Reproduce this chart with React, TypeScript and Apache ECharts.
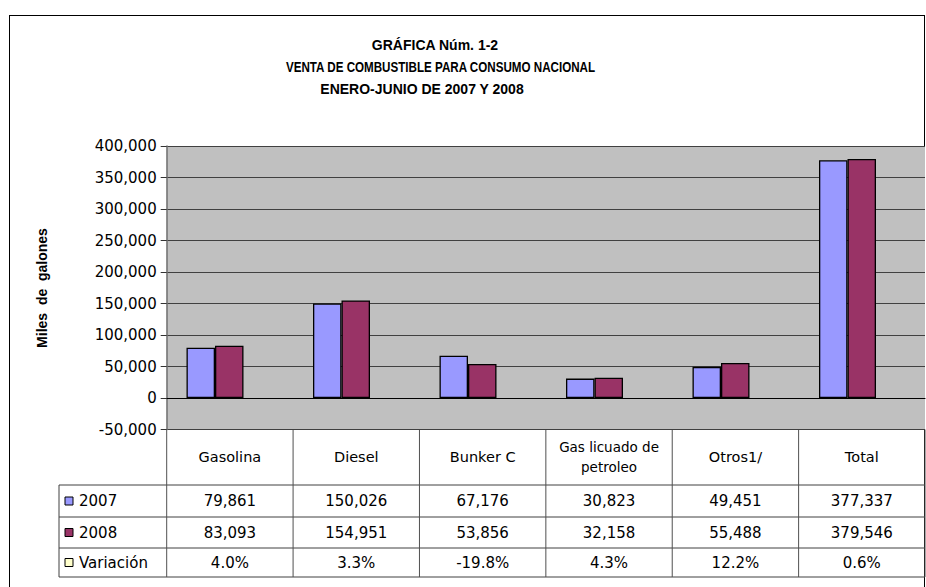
import React, { useEffect, useRef } from "react";
import * as echarts from "echarts";

const categories = ["Gasolina", "Diesel", "Bunker C", "Gas licuado de\npetroleo", "Otros1/", "Total"];
const seriesNames = ["2007", "2008", "Variación"];
const values2007 = [79861, 150026, 67176, 30823, 49451, 377337];
const values2008 = [83093, 154951, 53856, 32158, 55488, 379546];
const variation = ["4.0%", "3.3%", "-19.8%", "4.3%", "12.2%", "0.6%"];
const titleLines = ["GRÁFICA Núm. 1-2", "VENTA DE COMBUSTIBLE PARA CONSUMO NACIONAL", "ENERO-JUNIO DE 2007 Y 2008"];
const yAxisTitle = "Miles  de  galones";
const colors = ["#9999FF", "#993366", "#FFFFCC"];

const fmt = (v: number) => v.toLocaleString("en-US");

export default function App() {
  const ref = useRef<HTMLDivElement>(null);
  useEffect(() => {
    if (!ref.current) return;
    const chart = echarts.init(ref.current, undefined, { renderer: "svg" });
    const plotLeft = 166.7;
    const plotRight = 925;
    const plotTop = 146;
    const plotBottom = 429.5;
    const colW = (plotRight - plotLeft) / categories.length;
    const barBand = 126.5;
    const barGridLeft = 151.75;
    const rowLines = [485, 517, 548, 577];
    const legendLeft = 59;
    const font = "DejaVu Sans";
    const titleFont = "bold 14px 'Liberation Sans', Arial, sans-serif";

    const graphic: any[] = [];
    const lineColor = "#404040";
    // title
    const titleX = [435, 440.5, 422];
    const titleY = [45, 67, 89];
    const titleScale = [1, 0.83, 1];
    titleLines.forEach((t, i) => {
      graphic.push({
        type: "text",
        x: titleX[i],
        y: titleY[i],
        scaleX: titleScale[i],
        style: { text: t, align: "center", verticalAlign: "middle", fill: "#000", font: titleFont },
      });
    });
    // y axis title
    graphic.push({
      type: "text",
      x: 42,
      y: 288,
      rotation: Math.PI / 2,
      style: { text: yAxisTitle, align: "center", verticalAlign: "middle", fill: "#000", font: "bold 14px 'Liberation Sans', Arial, sans-serif" },
    });
    // table lines
    graphic.push({ type: "line", shape: { x1: plotLeft, y1: plotBottom, x2: plotRight, y2: plotBottom }, style: { stroke: "#000", lineWidth: 1.2 } });
    rowLines.forEach((y) => {
      graphic.push({ type: "line", shape: { x1: legendLeft, y1: y, x2: plotRight, y2: y }, style: { stroke: lineColor, lineWidth: 1 } });
    });
    for (let i = 0; i <= categories.length; i++) {
      const x = plotLeft + i * colW;
      graphic.push({ type: "line", shape: { x1: x, y1: plotBottom, x2: x, y2: rowLines[3] }, style: { stroke: "#505050", lineWidth: 1 } });
    }
    graphic.push({ type: "line", shape: { x1: legendLeft, y1: rowLines[0], x2: legendLeft, y2: rowLines[3] }, style: { stroke: lineColor, lineWidth: 1 } });
    // header
    categories.forEach((c, i) => {
      const cx = plotLeft + (i + 0.5) * colW;
      const multi = c.includes("\n");
      graphic.push({
        type: "text",
        x: cx,
        y: (plotBottom + rowLines[0]) / 2,
        style: { text: c, align: "center", verticalAlign: "middle", fill: "#000", font: `${multi ? 13.5 : 14.5}px '${font}'`, lineHeight: 20 },
      });
    });
    const rows = [values2007.map(fmt), values2008.map(fmt), variation];
    rows.forEach((r, ri) => {
      const cy = (rowLines[ri] + rowLines[ri + 1]) / 2;
      r.forEach((t, i) => {
        graphic.push({
          type: "text",
          x: plotLeft + (i + 0.5) * colW,
          y: cy,
          style: { text: t, align: "center", verticalAlign: "middle", fill: "#000", font: `15px '${font}'` },
        });
      });
      graphic.push({ type: "rect", shape: { x: 65, y: cy - 4, width: 8, height: 8 }, style: { fill: colors[ri], stroke: "#000", lineWidth: 1 } });
      graphic.push({
        type: "text",
        x: 79,
        y: cy,
        style: { text: seriesNames[ri], align: "left", verticalAlign: "middle", fill: "#000", font: `15px '${font}'` },
      });
    });

    chart.setOption({
      animation: false,
      grid: [
        { left: plotLeft, top: plotTop, width: plotRight - plotLeft, height: plotBottom - plotTop, show: true, backgroundColor: "#C0C0C0", borderWidth: 0 },
        { left: barGridLeft, top: plotTop, width: barBand * categories.length, height: plotBottom - plotTop },
      ],
      xAxis: [
        {
          type: "category", gridIndex: 0, data: categories,
          axisLine: { show: true, onZero: true, lineStyle: { color: "#000", width: 1.2 } },
          axisTick: { show: false }, axisLabel: { show: false }, splitLine: { show: false },
        },
        {
          type: "category", gridIndex: 1, data: categories,
          axisLine: { show: false }, axisTick: { show: false }, axisLabel: { show: false }, splitLine: { show: false },
        },
      ],
      yAxis: [
        {
          type: "value", gridIndex: 0, min: -50000, max: 400000, interval: 50000,
          axisLine: { show: true, lineStyle: { color: "#707070", width: 1.5 } },
          axisTick: { show: true, length: 6, lineStyle: { color: "#333" } },
          axisLabel: { color: "#000", fontSize: 15, fontFamily: font, margin: 10, formatter: (v: number) => fmt(v) },
          splitLine: { show: true, lineStyle: { color: "#404040", width: 1 } },
        },
        {
          type: "value", gridIndex: 1, min: -50000, max: 400000, interval: 50000,
          axisLine: { show: false }, axisTick: { show: false }, axisLabel: { show: false }, splitLine: { show: false },
        },
      ],
      series: [
        {
          name: seriesNames[0], type: "bar", xAxisIndex: 1, yAxisIndex: 1, data: values2007,
          barWidth: 28.5, barGap: "0%",
          itemStyle: { color: colors[0], borderColor: "#000", borderWidth: 1.3 },
        },
        {
          name: seriesNames[1], type: "bar", xAxisIndex: 1, yAxisIndex: 1, data: values2008,
          barWidth: 28.5, barGap: "0%",
          itemStyle: { color: colors[1], borderColor: "#000", borderWidth: 1.3 },
        },
      ],
      graphic,
    });
    return () => chart.dispose();
  }, []);

  return (
    <>
      <div style={{ position: "fixed", left: 9, top: 15, width: 916, height: 600, border: "1px solid #000", background: "#fff", boxSizing: "border-box" }} />
      <div ref={ref} style={{ position: "fixed", left: 0, top: 0, width: 926, height: 587 }} />
    </>
  );
}
